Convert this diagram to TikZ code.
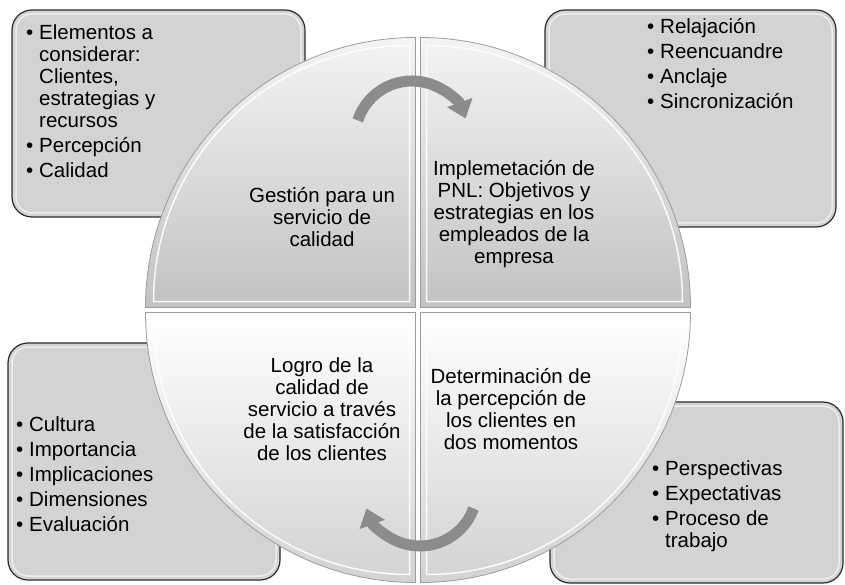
\documentclass[tikz,border=0pt]{standalone}
\usepackage{fontspec}
\setmainfont{Liberation Sans}
\usetikzlibrary{arrows.meta}

\definecolor{boxgray}{HTML}{D3D3D3}
\definecolor{boxedge}{HTML}{2B2B2B}
\definecolor{quadedge}{HTML}{9C9C9C}
\definecolor{quaddark}{HTML}{C2C2C2}
\definecolor{quadlight}{HTML}{F4F4F4}
\definecolor{quadlow}{HTML}{D2D2D2}
\definecolor{arrowgray}{HTML}{8C8C8C}

\newcommand{\bpt}{\makebox[13pt][l]{\textbullet}}
\newcommand{\bind}{\hspace*{13pt}}

\begin{document}
\begin{tikzpicture}[x=1pt,y=-1pt,
    listbox/.style={draw=boxedge,line width=1.2pt,fill=boxgray,rounded corners=20pt},
    listshine/.style={draw=white,line width=1.5pt,opacity=0.6,rounded corners=16pt},
    quadtop/.style={draw=quadedge,line width=0.8pt,top color=quadlight,bottom color=quaddark},
    quadbottom/.style={draw=quadedge,line width=0.8pt,top color=white,bottom color=quadlow},
    quadshine/.style={draw=white,line width=1.5pt,opacity=0.9},
    listtext/.style={inner sep=0pt,anchor=north west,align=left,
        font=\fontsize{20.5}{22}\selectfont},
    quadtext/.style={inner sep=0pt,anchor=north,align=center,
        font=\fontsize{20.5}{22}\selectfont},
    cyclearrow/.style={draw=arrowgray,line width=11pt,
        -{Triangle[width=26pt,length=17pt]}}]
    \useasboundingbox (0,0) rectangle (845,585);

    % corner boxes
    \draw[listbox] (12,10) rectangle (305,217);
    \draw[listshine] (16,14) rectangle (301,213);
    \draw[listbox] (545,10) rectangle (836,227);
    \draw[listshine] (549,14) rectangle (832,223);
    \draw[listbox] (8,343) rectangle (280,580);
    \draw[listshine] (12,347) rectangle (276,576);
    \draw[listbox] (550,402) rectangle (843,583);
    \draw[listshine] (554,406) rectangle (839,579);

    % circle in four parts
    \draw[quadtop] (415.5,307.5) -- (145.5,307.5)
        arc[start angle=180, end angle=270, radius=270] -- cycle;
    \draw[quadshine] (409.5,301.5) -- (153.5,301.5)
        arc[start angle=180, end angle=270, radius=256] -- cycle;
    \draw[quadtop] (420.5,307.5) -- (690.5,307.5)
        arc[start angle=0, end angle=-90, radius=270] -- cycle;
    \draw[quadshine] (426.5,301.5) -- (682.5,301.5)
        arc[start angle=0, end angle=-90, radius=256] -- cycle;
    \draw[quadbottom] (415.5,312.5) -- (145.5,312.5)
        arc[start angle=180, end angle=90, radius=270] -- cycle;
    \draw[quadshine] (409.5,318.5) -- (153.5,318.5)
        arc[start angle=180, end angle=90, radius=256] -- cycle;
    \draw[quadbottom] (420.5,312.5) -- (690.5,312.5)
        arc[start angle=0, end angle=90, radius=270] -- cycle;
    \draw[quadshine] (426.5,318.5) -- (682.5,318.5)
        arc[start angle=0, end angle=90, radius=256] -- cycle;

    % cycle arrows
    \coordinate (topc) at (412,138);
    \coordinate (botc) at (420,489);
    \draw[cyclearrow] ([shift={(198:57)}]topc)
        arc[start angle=198, end angle=340, radius=57];
    \draw[cyclearrow] ([shift={(20:57)}]botc)
        arc[start angle=20, end angle=160, radius=57];

    % texts in the circle
    \node[quadtext] (gestion) at (322,187)
        {Gestión para un\\servicio de\\calidad};
    \node[quadtext] (pnl) at (514,160)
        {Implemetación de\\PNL: Objetivos y\\estrategias en los\\empleados de la\\empresa};
    \node[quadtext] (logro) at (322,357)
        {Logro de la\\calidad de\\servicio a través\\de la satisfacción\\de los clientes};
    \node[quadtext] (percep) at (511,368)
        {Determinación de\\la percepción de\\los clientes en\\dos momentos};

    % bullet lists
    \node[listtext] (elementos) at (26,24)
        {\bpt Elementos a\\ \bind considerar:\\ \bind Clientes,\\ \bind estrategias y\\ \bind recursos\\[3pt]
         \bpt Percepción\\[3pt] \bpt Calidad};
    \node[listtext] (tecnicas) at (647,18)
        {\bpt Relajación\\[3pt] \bpt Reencuandre\\[3pt] \bpt Anclaje\\[3pt] \bpt Sincronización};
    \node[listtext] (cultura) at (16,416)
        {\bpt Cultura\\[3pt] \bpt Importancia\\[3pt] \bpt Implicaciones\\[3pt]
         \bpt Dimensiones\\[3pt] \bpt Evaluación};
    \node[listtext] (perspect) at (652,460)
        {\bpt Perspectivas\\[3pt] \bpt Expectativas\\[3pt] \bpt Proceso de\\ \bind trabajo};
\end{tikzpicture}
\end{document}
